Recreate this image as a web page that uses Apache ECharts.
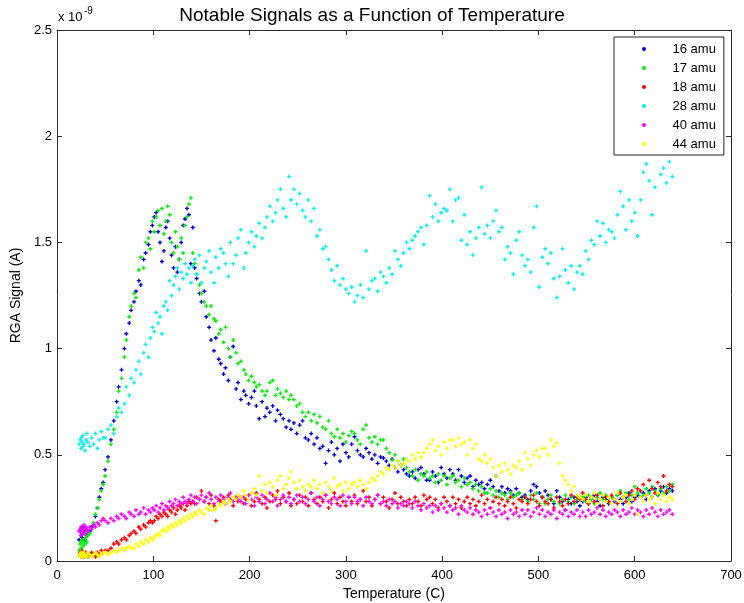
<!DOCTYPE html>
<html>
<head>
<meta charset="utf-8">
<script src="https://cdn.jsdelivr.net/npm/echarts@6/dist/echarts.min.js"></script>
<style>
html,body{margin:0;padding:0;background:#fff;}
#c{width:744px;height:603px;}
</style>
</head>
<body>
<div id="c"></div>
<script>
// Temperature (C) of each scan
const temperature = [
23,24,25,25,26,27,27,28,29,30,31,32,34,36,38,40,42,44,46,48,
50,53,56,59,62,64,67,70,72,75,77,80,82,85,87,90,92,95,97,99,
101,103,105,107,109,111,113,115,117,119,121,123,125,127,129,131,133,135,137,139,
141,143,145,148,150,153,155,158,160,163,165,168,170,173,175,178,180,183,186,188,
191,194,196,199,202,205,207,210,213,216,218,221,224,227,229,232,235,238,241,243,
246,249,252,255,258,261,264,267,270,273,276,279,282,285,288,291,294,297,300,303,
306,309,312,315,318,321,324,327,330,333,336,339,342,345,348,351,354,357,360,363,
366,369,372,375,378,381,384,387,390,393,396,399,402,405,408,411,414,417,420,423,
426,429,432,435,438,441,444,447,450,453,456,459,462,465,468,471,474,477,480,483,
486,489,492,495,498,501,504,507,510,513,516,519,522,525,528,531,534,537,540,543,
546,549,552,555,558,561,564,567,570,573,576,579,582,585,588,591,594,597,600,603,
606,609,612,615,618,621,624,627,630,633,636,639
];
// Signals in units of 1e-9 A
const amu16 = [
0.10,0.14,0.12,0.15,0.11,0.16,0.13,0.14,0.10,0.15,0.12,0.13,0.14,0.16,0.17,0.21,0.25,0.30,0.34,0.37,
0.43,0.49,0.57,0.66,0.75,0.82,0.90,1.00,1.07,1.12,1.18,1.22,1.27,1.32,1.30,1.42,1.45,1.49,1.55,1.58,
1.62,1.64,1.55,1.50,1.41,1.46,1.57,1.60,1.52,1.44,1.38,1.48,1.36,1.42,1.50,1.58,1.61,1.66,1.63,1.40,
1.57,1.38,1.33,1.26,1.22,1.27,1.15,1.10,1.04,0.99,1.05,0.95,0.93,0.88,0.91,0.85,0.96,1.01,0.81,0.84,
0.76,0.80,0.78,0.74,0.77,0.80,0.73,0.67,0.75,0.68,0.72,0.70,0.73,0.66,0.71,0.69,0.67,0.63,0.66,0.62,
0.65,0.60,0.64,0.66,0.58,0.57,0.60,0.55,0.58,0.53,0.54,0.46,0.52,0.56,0.50,0.53,0.47,0.55,0.51,0.49,
0.55,0.585,0.52,0.50,0.49,0.53,0.51,0.48,0.50,0.46,0.49,0.485,0.47,0.45,0.48,0.44,0.42,0.45,0.43,0.41,
0.40,0.42,0.39,0.43,0.44,0.41,0.38,0.38,0.42,0.40,0.37,0.44,0.41,0.39,0.43,0.41,0.38,0.43,0.40,0.37,
0.39,0.40,0.35,0.38,0.36,0.37,0.34,0.36,0.38,0.35,0.40,0.33,0.35,0.32,0.34,0.33,0.31,0.34,0.32,0.30,
0.31,0.29,0.33,0.36,0.35,0.32,0.30,0.33,0.31,0.29,0.27,0.33,0.30,0.28,0.24,0.29,0.27,0.30,0.28,0.26,
0.28,0.30,0.27,0.29,0.31,0.28,0.26,0.30,0.29,0.27,0.30,0.28,0.31,0.29,0.27,0.30,0.32,0.28,0.30,0.31,
0.30,0.32,0.29,0.33,0.30,0.34,0.31,0.33,0.35,0.32,0.34,0.33
];
const amu17 = [
0.05,0.08,0.09,0.06,0.10,0.07,0.09,0.10,0.08,0.11,0.09,0.12,0.13,0.15,0.18,0.22,0.25,0.29,0.33,0.36,
0.40,0.47,0.55,0.62,0.70,0.80,0.86,0.96,1.04,1.15,1.20,1.26,1.24,1.37,1.43,1.38,1.50,1.52,1.47,1.60,
1.55,1.62,1.65,1.58,1.66,1.54,1.60,1.67,1.63,1.50,1.45,1.55,1.48,1.42,1.52,1.45,1.58,1.62,1.68,1.71,
1.45,1.40,1.35,1.30,1.26,1.22,1.20,1.16,1.20,1.14,1.13,1.07,1.09,1.03,1.10,1.00,0.96,1.04,0.98,0.93,
0.94,0.90,0.88,0.85,0.87,0.84,0.82,0.83,0.80,0.78,0.80,0.84,0.85,0.78,0.81,0.79,0.77,0.80,0.76,0.78,
0.76,0.73,0.74,0.70,0.68,0.70,0.66,0.69,0.65,0.68,0.63,0.62,0.66,0.60,0.585,0.62,0.58,0.60,0.56,0.59,
0.61,0.60,0.57,0.55,0.62,0.64,0.58,0.56,0.585,0.55,0.57,0.57,0.53,0.51,0.475,0.50,0.47,0.45,0.48,0.44,
0.42,0.40,0.43,0.38,0.41,0.40,0.42,0.39,0.40,0.37,0.41,0.38,0.40,0.36,0.39,0.40,0.37,0.38,0.35,0.39,
0.36,0.37,0.34,0.36,0.33,0.35,0.32,0.32,0.34,0.31,0.33,0.30,0.32,0.31,0.29,0.32,0.30,0.31,0.32,0.29,
0.30,0.28,0.31,0.29,0.32,0.27,0.30,0.27,0.29,0.31,0.28,0.30,0.27,0.29,0.31,0.28,0.30,0.27,0.29,0.30,
0.30,0.28,0.31,0.29,0.27,0.30,0.32,0.29,0.31,0.28,0.30,0.29,0.31,0.33,0.30,0.32,0.29,0.31,0.35,0.32,
0.33,0.31,0.34,0.32,0.35,0.33,0.31,0.34,0.32,0.35,0.33,0.36
];
const amu18 = [
0.03,0.04,0.02,0.03,0.05,0.03,0.04,0.02,0.03,0.04,0.03,0.02,0.03,0.04,0.03,0.02,0.04,0.03,0.05,0.04,
0.05,0.05,0.06,0.08,0.09,0.08,0.10,0.11,0.10,0.12,0.13,0.14,0.13,0.16,0.15,0.17,0.16,0.18,0.19,0.18,
0.19,0.21,0.20,0.22,0.21,0.23,0.22,0.21,0.24,0.23,0.25,0.22,0.24,0.26,0.25,0.27,0.24,0.26,0.28,0.27,
0.28,0.27,0.30,0.29,0.33,0.28,0.30,0.27,0.31,0.26,0.19,0.29,0.28,0.30,0.27,0.31,0.29,0.26,0.30,0.28,
0.30,0.27,0.29,0.31,0.26,0.28,0.32,0.29,0.27,0.30,0.25,0.28,0.31,0.29,0.33,0.27,0.30,0.28,0.32,0.26,
0.29,0.27,0.31,0.28,0.30,0.26,0.32,0.29,0.27,0.30,0.28,0.31,0.25,0.29,0.32,0.27,0.30,0.28,0.26,0.30,
0.28,0.31,0.27,0.29,0.33,0.28,0.30,0.26,0.29,0.31,0.27,0.30,0.28,0.25,0.29,0.32,0.27,0.30,0.28,0.26,
0.29,0.27,0.30,0.28,0.26,0.31,0.29,0.30,0.27,0.29,0.25,0.27,0.30,0.28,0.26,0.30,0.27,0.29,0.25,0.28,
0.30,0.27,0.29,0.26,0.28,0.31,0.27,0.29,0.25,0.28,0.30,0.27,0.29,0.26,0.28,0.30,0.27,0.25,0.29,0.28,
0.30,0.27,0.29,0.31,0.28,0.26,0.30,0.28,0.27,0.29,0.25,0.30,0.28,0.26,0.29,0.27,0.31,0.28,0.30,0.29,
0.32,0.29,0.27,0.30,0.28,0.31,0.29,0.26,0.30,0.28,0.31,0.29,0.27,0.32,0.30,0.28,0.31,0.33,0.29,0.34,
0.33,0.36,0.31,0.38,0.34,0.32,0.37,0.35,0.40,0.33,0.36,0.35
];
const amu28 = [
0.55,0.57,0.53,0.58,0.56,0.54,0.59,0.55,0.52,0.57,0.60,0.56,0.54,0.58,0.55,0.60,0.53,0.57,0.61,0.58,
0.58,0.62,0.64,0.60,0.68,0.72,0.70,0.74,0.82,0.78,0.86,0.84,0.90,0.94,0.88,0.98,1.02,0.96,1.05,1.10,
1.08,1.17,1.12,1.15,1.07,1.20,1.22,1.18,1.32,1.25,1.30,1.34,1.38,1.28,1.36,1.33,1.40,1.35,1.38,1.31,
1.39,1.42,1.35,1.44,1.31,1.38,1.41,1.46,1.36,1.31,1.43,1.38,1.47,1.45,1.40,1.34,1.50,1.40,1.44,1.52,
1.56,1.38,1.45,1.50,1.55,1.48,1.53,1.59,1.52,1.57,1.62,1.67,1.60,1.64,1.70,1.75,1.66,1.62,1.81,1.70,
1.75,1.68,1.73,1.65,1.62,1.70,1.60,1.66,1.53,1.56,1.47,1.48,1.42,1.37,1.32,1.39,1.30,1.33,1.28,1.26,
1.29,1.22,1.25,1.30,1.24,1.46,1.28,1.32,1.33,1.27,1.36,1.34,1.31,1.38,1.35,1.46,1.42,1.39,1.45,1.50,
1.47,1.51,1.53,1.55,1.57,1.49,1.58,1.72,1.62,1.68,1.60,1.64,1.66,1.65,1.75,1.60,1.70,1.71,1.51,1.63,
1.49,1.55,1.44,1.52,1.57,1.76,1.54,1.58,1.52,1.60,1.65,1.55,1.57,1.42,1.48,1.45,1.35,1.51,1.55,1.44,
1.39,1.42,1.36,1.57,1.67,1.29,1.43,1.47,1.40,1.45,1.33,1.24,1.34,1.47,1.37,1.31,1.39,1.28,1.36,1.39,
1.35,1.46,1.42,1.51,1.49,1.60,1.53,1.59,1.50,1.56,1.55,1.52,1.63,1.74,1.67,1.56,1.70,1.60,1.64,1.53,
1.70,1.83,1.87,1.79,1.63,1.76,1.92,1.82,1.85,1.78,1.88,1.81
];
const amu40 = [
0.14,0.15,0.12,0.16,0.13,0.15,0.14,0.17,0.13,0.16,0.15,0.14,0.16,0.15,0.17,0.16,0.18,0.17,0.19,0.20,
0.19,0.18,0.20,0.19,0.21,0.20,0.22,0.21,0.20,0.23,0.22,0.21,0.24,0.22,0.23,0.25,0.22,0.24,0.23,0.25,
0.24,0.26,0.23,0.25,0.27,0.24,0.26,0.25,0.28,0.26,0.27,0.29,0.26,0.28,0.27,0.30,0.28,0.27,0.29,0.31,
0.28,0.30,0.27,0.29,0.31,0.28,0.30,0.32,0.29,0.27,0.30,0.28,0.31,0.29,0.27,0.30,0.32,0.28,0.30,0.29,
0.28,0.30,0.27,0.31,0.29,0.26,0.30,0.28,0.31,0.27,0.29,0.32,0.28,0.30,0.26,0.29,0.31,0.28,0.30,0.27,
0.29,0.31,0.28,0.30,0.27,0.29,0.32,0.28,0.30,0.26,0.29,0.31,0.28,0.27,0.30,0.29,0.26,0.31,0.28,0.30,
0.27,0.30,0.28,0.29,0.26,0.30,0.28,0.27,0.29,0.31,0.27,0.28,0.26,0.29,0.27,0.28,0.25,0.27,0.26,0.28,
0.27,0.25,0.28,0.26,0.24,0.27,0.25,0.26,0.23,0.26,0.24,0.27,0.25,0.23,0.26,0.24,0.25,0.22,0.26,0.24,
0.23,0.25,0.22,0.24,0.23,0.21,0.24,0.22,0.25,0.23,0.21,0.24,0.22,0.23,0.20,0.24,0.22,0.23,0.21,0.24,
0.22,0.24,0.21,0.23,0.25,0.22,0.24,0.21,0.23,0.22,0.24,0.20,0.23,0.22,0.24,0.21,0.23,0.22,0.24,0.21,
0.23,0.21,0.24,0.22,0.23,0.25,0.22,0.24,0.21,0.23,0.22,0.24,0.23,0.21,0.24,0.22,0.23,0.25,0.22,0.24,
0.23,0.21,0.24,0.22,0.25,0.23,0.21,0.24,0.22,0.23,0.24,0.22
];
const amu44 = [
0.03,0.02,0.04,0.03,0.02,0.03,0.04,0.02,0.03,0.03,0.02,0.04,0.03,0.02,0.03,0.04,0.03,0.02,0.03,0.04,
0.04,0.03,0.04,0.05,0.04,0.05,0.06,0.05,0.06,0.07,0.06,0.06,0.08,0.07,0.09,0.08,0.10,0.09,0.11,0.10,
0.11,0.12,0.13,0.12,0.14,0.15,0.14,0.16,0.15,0.17,0.16,0.18,0.17,0.19,0.18,0.20,0.19,0.21,0.20,0.22,
0.21,0.23,0.22,0.24,0.23,0.22,0.25,0.24,0.26,0.24,0.25,0.27,0.26,0.28,0.27,0.29,0.28,0.30,0.29,0.31,
0.30,0.33,0.31,0.29,0.32,0.34,0.31,0.40,0.33,0.36,0.32,0.37,0.35,0.31,0.38,0.40,0.34,0.36,0.39,0.42,
0.37,0.34,0.38,0.35,0.33,0.36,0.35,0.38,0.34,0.36,0.32,0.37,0.35,0.33,0.39,0.35,0.36,0.33,0.37,0.34,
0.36,0.37,0.35,0.38,0.36,0.34,0.37,0.39,0.38,0.40,0.42,0.41,0.44,0.43,0.45,0.44,0.47,0.45,0.46,0.48,
0.47,0.50,0.48,0.51,0.49,0.51,0.53,0.55,0.57,0.52,0.54,0.50,0.56,0.53,0.57,0.57,0.54,0.58,0.55,0.56,
0.50,0.57,0.53,0.55,0.48,0.47,0.50,0.46,0.48,0.44,0.40,0.45,0.42,0.46,0.43,0.41,0.45,0.44,0.47,0.43,
0.51,0.48,0.45,0.50,0.52,0.49,0.53,0.53,0.50,0.57,0.54,0.555,0.46,0.40,0.38,0.36,0.33,0.35,0.31,0.30,
0.29,0.31,0.28,0.30,0.32,0.27,0.29,0.31,0.28,0.30,0.27,0.29,0.32,0.28,0.30,0.31,0.27,0.29,0.31,0.22,
0.30,0.28,0.31,0.29,0.30,0.27,0.32,0.29,0.31,0.28,0.30,0.29
];
const seriesNames = ['16 amu','17 amu','18 amu','28 amu','40 amu','44 amu'];
const seriesValues = [amu16, amu17, amu18, amu28, amu40, amu44];
const seriesColors = ['#0000d0','#00ee00','#ff0000','#00f0f0','#ff00ff','#ffff00'];
const xTicks = [0,100,200,300,400,500,600,700];
const yTicks = [0,0.5,1,1.5,2,2.5];

const plus = 'path://M1,0H2V1H3V2H2V3H1V2H0V1H1Z';
const FONT = 'Liberation Sans, Arial, sans-serif';

const chart = echarts.init(document.getElementById('c'), null, {renderer:'canvas'});
const axisCommon = {
  axisLine:{show:true, onZero:false, lineStyle:{color:'#2b2b2b', width:1}},
  axisTick:{show:true, inside:true, length:5, lineStyle:{color:'#2b2b2b'}},
  splitLine:{show:false}
};
chart.setOption({
  animation:false,
  backgroundColor:'#fff',
  textStyle:{fontFamily:FONT},
  title:{
    text:'Notable Signals as a Function of Temperature',
    left:367, top:1, textAlign:'center',
    textStyle:{fontSize:19, fontWeight:'normal', color:'#000', fontFamily:FONT}
  },
  grid:{left:57, right:13, top:30, bottom:42, containLabel:false, outerBoundsMode:'none'},
  legend:{
    orient:'vertical', left:614, top:37,
    padding:[5,8,4,28], itemGap:5,
    itemWidth:25, itemHeight:4, icon:'circle',
    borderColor:'#222', borderWidth:1, backgroundColor:'#fff',
    textStyle:{fontSize:13, color:'#000', lineHeight:14, fontFamily:FONT, padding:[0,0,0,11]},
    data:seriesNames
  },
  xAxis:[
    Object.assign({type:'value', min:xTicks[0], max:xTicks[xTicks.length-1], interval:100, position:'bottom',
      name:'Temperature (C)', nameLocation:'middle', nameGap:26,
      nameTextStyle:{fontSize:14, color:'#000', fontFamily:FONT},
      axisLabel:{color:'#000', fontSize:13, margin:8, fontFamily:FONT}}, axisCommon),
    Object.assign({type:'value', min:xTicks[0], max:xTicks[xTicks.length-1], interval:100, position:'top',
      axisLabel:{show:false}}, axisCommon)
  ],
  yAxis:[
    Object.assign({type:'value', min:yTicks[0], max:yTicks[yTicks.length-1], interval:0.5, position:'left',
      name:'RGA Signal (A)', nameLocation:'middle', nameGap:29,
      nameTextStyle:{fontSize:14, color:'#000', fontFamily:FONT},
      axisLabel:{color:'#000', fontSize:13, margin:5, fontFamily:FONT}}, axisCommon),
    Object.assign({type:'value', min:yTicks[0], max:yTicks[yTicks.length-1], interval:0.5, position:'right',
      axisLabel:{show:false}}, axisCommon)
  ],
  graphic:[
    {type:'text', left:58, top:11, style:{text:'x 10', fontSize:13, fill:'#000', fontFamily:FONT}},
    {type:'text', left:84, top:6, style:{text:'-9', fontSize:10, fill:'#000', fontFamily:FONT}}
  ],
  series: seriesNames.map((name, k) => ({
    name: name,
    type:'scatter',
    xAxisIndex:0, yAxisIndex:0,
    symbol: plus,
    symbolSize:4,
    itemStyle:{color:seriesColors[k], opacity:1},
    emphasis:{disabled:true},
    data: temperature.map((t, i) => [t, seriesValues[k][i]]).filter(p => p[1] !== undefined)
  }))
});
</script>
</body>
</html>
